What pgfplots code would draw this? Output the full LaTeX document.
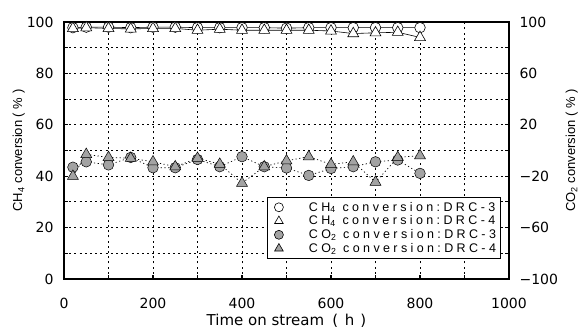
\documentclass[border=0pt]{standalone}
\usepackage{pgfplots}
\pgfplotsset{compat=1.18}
\usepackage{fontspec}
\setmainfont{Liberation Sans}
\newfontfamily\numfont{DejaVu Sans}
\newfontfamily\legfont[LetterSpace=27]{Liberation Sans}
\definecolor{markgray}{gray}{0.64}

\begin{document}
\begin{tikzpicture}
\useasboundingbox (-64bp,-53bp) rectangle (516bp,279bp);
\pgfplotsset{
  frameaxis/.style={
    width=445bp, height=257bp, scale only axis,
    at={(0,0)}, anchor=south west,
    xmin=0, xmax=1000,
    axis line style={line width=1.3pt},
    tick style={line width=1.2pt, black},
    major tick length=4.5bp, minor tick length=4.5bp,
    tick align=inside,
    tick label style={font=\fontsize{14bp}{16bp}\numfont},
    /pgf/number format/assume math mode=true,
    /pgf/number format/1000 sep={},
  },
}
\begin{axis}[
  frameaxis,
  ymin=0, ymax=100,
  xtick={0,200,...,1000}, minor xtick={100,300,...,900},
  ytick={0,20,...,100}, minor ytick={10,30,...,90},
  xtick pos=bottom, ytick pos=left,
  grid=both,
  grid style={black, line width=0.9pt, dash pattern=on 2bp off 3.2bp},
  minor grid style={black, line width=0.9pt, dash pattern=on 2bp off 3.2bp},
  xticklabel style={yshift=-16bp},
  yticklabel style={xshift=-7bp},
  xlabel={Time on stream\hspace{0.55em}(\hspace{0.45em}h\hspace{0.4em})},
  ylabel={CH\textsubscript{4} conversion ( \% )},
  xlabel style={font=\fontsize{15bp}{16bp}\numfont, yshift=2bp},
  ylabel style={font=\fontsize{13bp}{14bp}\selectfont, yshift=-5bp},
  legend style={at={(0.982,0.319)}, anchor=north east,
    draw=black, line width=0.8pt, fill=white,
    font=\fontsize{12.5bp}{13bp}\legfont,
    inner xsep=3bp, inner ysep=3bp, row sep=0bp,
    nodes={inner sep=1.6bp}},
  legend cell align=left,
  legend image code/.code={
    \draw[#1, line width=0.6pt] plot coordinates {(8bp,0bp)};
    \path (0bp,0bp) (36bp,0bp);},
]
% CO2 conversion, DRC-3
\addplot[forget plot, black, line width=0.7pt, dash pattern=on 1.2bp off 2.5bp,
  mark=*, mark size=5.3bp,
  mark options={solid, fill=markgray, draw=black, line width=0.5pt}]
  coordinates {(20,43.5)(50,45.6)(100,44.4)(150,47.3)(200,43.3)(250,43.3)
    (300,46.5)(350,43.7)(400,47.6)(450,43.7)(500,43.2)(550,40.3)(600,43.0)
    (650,43.7)(700,45.6)(750,46.3)(800,41.1)};
% CO2 conversion, DRC-4
\addplot[forget plot, black, line width=0.7pt, dash pattern=on 1.2bp off 2.5bp,
  mark=triangle*, mark size=6.3bp,
  mark options={solid, fill=markgray, draw=black, line width=0.5pt}]
  coordinates {(20,40.0)(50,48.5)(100,47.3)(150,47.0)(200,45.6)(250,43.7)
    (300,47.0)(350,44.7)(400,37.3)(450,43.7)(500,46.0)(550,47.6)(600,44.6)
    (650,45.6)(700,37.7)(750,47.3)(800,48.0)};
% CH4 conversion, DRC-3
\addplot[forget plot, black, line width=0.6pt,
  mark=*, mark size=5.3bp,
  mark options={solid, fill=white, draw=black, line width=0.6pt}]
  coordinates {(20,97.8)(50,98.0)(100,98.0)(150,97.8)(200,98.0)(250,98.0)
    (300,97.8)(350,97.8)(400,97.8)(450,97.8)(500,97.6)(550,97.8)(600,97.8)
    (650,97.8)(700,97.8)(750,97.8)(800,97.8)};
% CH4 conversion, DRC-4
\addplot[forget plot, black, line width=0.6pt,
  mark=triangle*, mark size=6.3bp,
  mark options={solid, fill=white, draw=black, line width=0.6pt}]
  coordinates {(20,97.5)(50,97.8)(100,97.5)(150,97.3)(200,97.5)(250,97.5)
    (300,96.8)(350,97.2)(400,96.8)(450,96.8)(500,96.8)(550,96.8)(600,96.5)
    (650,95.5)(700,95.8)(750,96.0)(800,94.0)};

\addlegendimage{only marks, mark=*, mark size=4.5bp, mark options={fill=white, draw=black}}
\addlegendentry{CH\textsubscript{4} conversion:DRC-3\hspace{16bp}}
\addlegendimage{only marks, mark=triangle*, mark size=5bp, mark options={fill=white, draw=black}}
\addlegendentry{CH\textsubscript{4} conversion:DRC-4\hspace{16bp}}
\addlegendimage{only marks, mark=*, mark size=4.5bp, mark options={fill=markgray, draw=black}}
\addlegendentry{CO\textsubscript{2} conversion:DRC-3\hspace{16bp}}
\addlegendimage{only marks, mark=triangle*, mark size=5bp, mark options={fill=markgray, draw=black}}
\addlegendentry{CO\textsubscript{2} conversion:DRC-4\hspace{16bp}}
\end{axis}

% right-hand scale for CO2 conversion
\begin{axis}[
  frameaxis,
  ymin=-100, ymax=100,
  axis x line=none,
  axis y line*=right,
  ytick={-100,-60,...,100}, minor ytick={-80,-40,...,80},
  yticklabels={−100,−60,−20,20,60,100},
  yticklabel style={xshift=7bp},
  ylabel={CO\textsubscript{2} conversion ( \% )},
  ylabel style={font=\fontsize{13bp}{14bp}\selectfont, yshift=-1bp},
]
\addplot[draw=none, forget plot] coordinates {(0,0)};
\end{axis}
\end{tikzpicture}
\end{document}
